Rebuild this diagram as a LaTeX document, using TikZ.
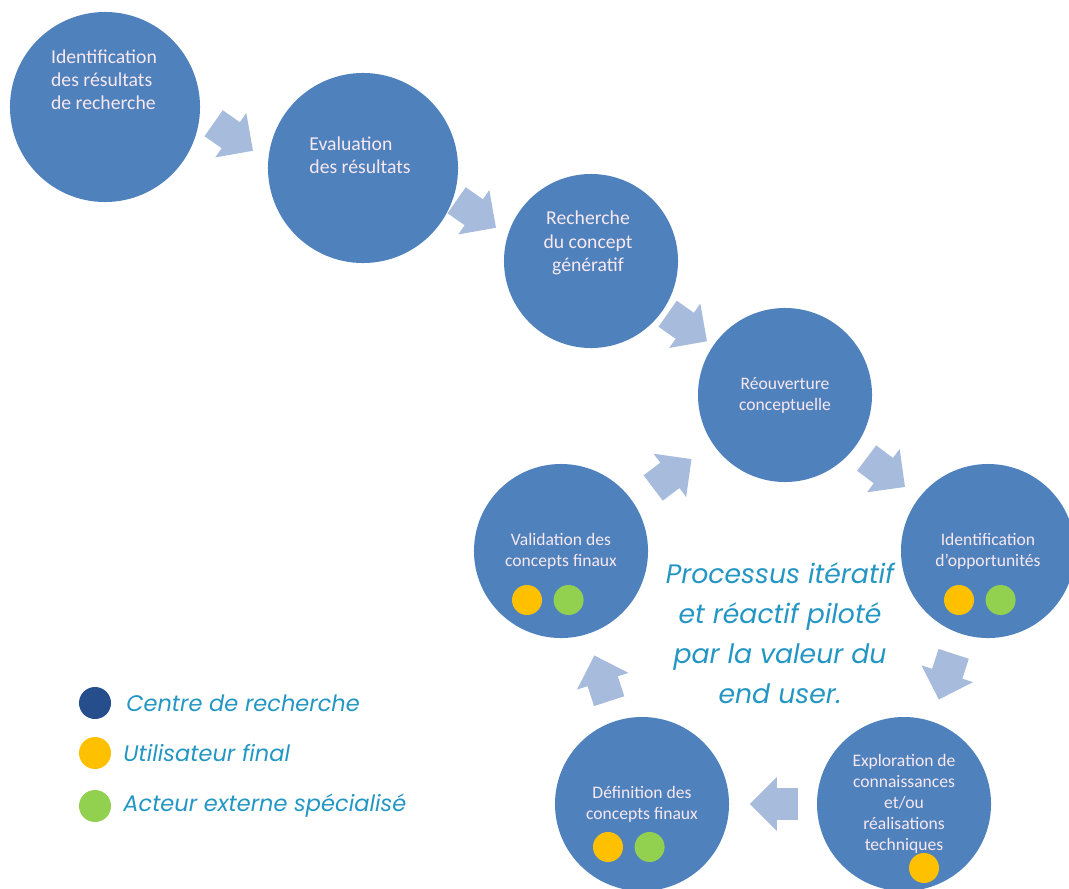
\documentclass[tikz,border=0pt]{standalone}
\usepackage{fontspec}
\setmainfont{Carlito}
\newfontfamily\procfont{Poppins}
\usepackage{tikz}
\usetikzlibrary{positioning,calc,shapes.arrows}
\definecolor{stepblue}{RGB}{79,129,189}
\definecolor{flowblue}{RGB}{167,187,220}
\definecolor{pinkwhite}{RGB}{248,232,240}
\definecolor{tealtext}{RGB}{35,150,195}
\definecolor{navydot}{RGB}{38,78,140}
\definecolor{userdot}{RGB}{255,192,0}
\definecolor{extdot}{RGB}{146,208,80}

\begin{document}
\begin{tikzpicture}[x=0.025cm, y=-0.025cm,
    bigstep/.style={circle, fill=stepblue, minimum size=4.75cm, inner sep=0pt},
    stepcirc/.style={circle, fill=stepblue, minimum size=4.35cm, inner sep=0pt,
        align=center, text=pinkwhite, font=\fontsize{12.5}{15}\selectfont},
    bigtxt/.style={text=pinkwhite, font=\fontsize{14}{16.5}\selectfont},
    dot/.style={circle, minimum size=0.75cm, inner sep=0pt},
    flow/.style={single arrow, fill=flowblue, minimum height=1.2cm, inner xsep=0pt,
        inner ysep=0.39cm, single arrow head extend=0.28cm, single arrow head indent=0pt},
    legtxt/.style={text=tealtext, font=\procfont\itshape\fontsize{16}{20}\selectfont},
    node distance=0.35cm
]
\useasboundingbox (0,0) rectangle (1069,888);

% process steps
\node[bigstep] (c1) at (105,107) {};
\node[bigtxt, align=left] (t1) at (104,80) {Identification\\des résultats\\de recherche};
\node[bigstep] (c2) at (363,168) {};
\node[bigtxt, align=left] (t2) at (360,155) {Evaluation\\des résultats};
\node[stepcirc] (c3) at (591,261) {};
\node[bigtxt, align=center] (t3) at (588,243) {Recherche\\du concept\\génératif};
\node[stepcirc] (c4) at (785,395) {Réouverture\\conceptuelle};
\node[stepcirc] (c5) at (988,551) {Identification\\d’opportunités};
\node[stepcirc] (c6) at (904,804) {Exploration de\\connaissances\\et/ou\\réalisations\\techniques};
\node[stepcirc] (c7) at (642,804) {Définition des\\concepts finaux};
\node[stepcirc] (c8) at (561,551) {Validation des\\concepts finaux};

% actors
\node[dot, fill=userdot] (u5) at ($(c5)+(-29,49)$) {};
\node[dot, fill=extdot, right=0.275cm of u5] (e5) {};
\node[dot, fill=userdot] (u8) at ($(c8)+(-34,49)$) {};
\node[dot, fill=extdot, right=0.275cm of u8] (e8) {};
\node[dot, fill=userdot] (u7) at ($(c7)+(-34,43)$) {};
\node[dot, fill=extdot, right=0.275cm of u7] (e7) {};
\node[dot, fill=userdot] (u6) at ($(c6)+(20,64)$) {};

% block arrows
\node[flow, rotate=-35, xshift=-0.22cm] (a1) at ($(c1)!0.5!(c2)$) {};
\node[flow, rotate=-35, xshift=-0.22cm] (a2) at ($(c2)!0.5!(c3)$) {};
\node[flow, rotate=-35, xshift=-0.22cm] (a3) at ($(c3)!0.5!(c4)$) {};
\node[flow, rotate=-37, xshift=-0.22cm] (a4) at ($(c4)!0.5!(c5)$) {};
\node[flow, rotate=-108, xshift=-0.22cm] (a5) at ($(c5)!0.5!(c6)$) {};
\node[flow, rotate=180, xshift=-0.22cm] (a6) at ($(c6)!0.5!(c7)$) {};
\node[flow, rotate=108, xshift=-0.22cm] (a7) at ($(c7)!0.5!(c8)$) {};
\node[flow, rotate=37, xshift=-0.22cm] (a8) at ($(c8)!0.5!(c4)$) {};

\node[legtxt, align=center, font=\procfont\itshape\fontsize{19}{28.4}\selectfont] (proc) at (780,633)
    {Processus itératif\\et réactif piloté\\par la valeur du\\end user.};

% legend
\node[dot, minimum size=0.8cm, fill=navydot] (l1) at (95,703) {};
\node[dot, minimum size=0.8cm, fill=userdot] (l2) at (95,753) {};
\node[dot, minimum size=0.8cm, fill=extdot] (l3) at (95,806) {};
\node[legtxt, right=0.25cm of l1] (lt1) {Centre de recherche};
\node[legtxt, right=0.18cm of l2] (lt2) {Utilisateur final};
\node[legtxt, right=0.18cm of l3] (lt3) {Acteur externe spécialisé};
\end{tikzpicture}
\end{document}
